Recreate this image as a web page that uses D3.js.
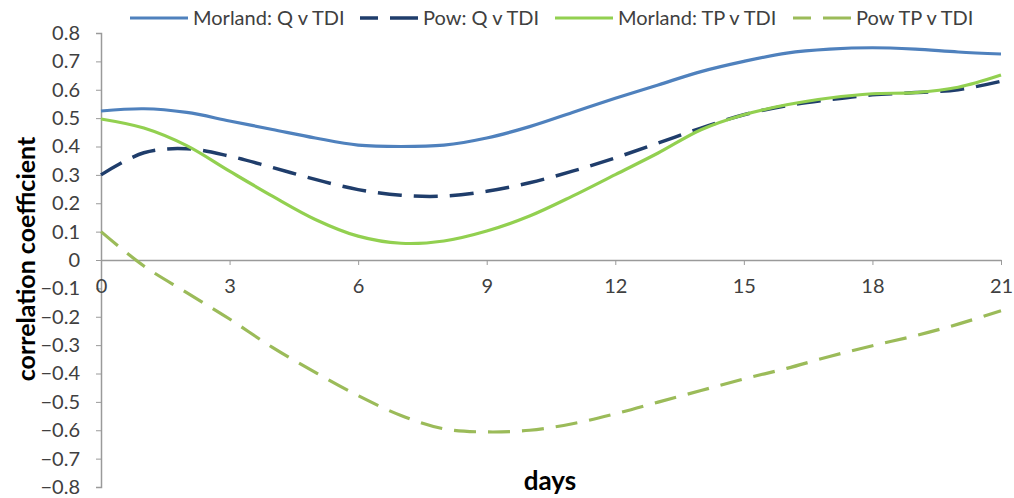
<!DOCTYPE html>
<html lang="en">
<head>
    <meta charset="UTF-8">
    <title>Correlation coefficient vs days</title>
    <script src="https://d3js.org/d3.v7.min.js"></script>
    <style>
        body { margin: 0; background: #fff; }
        text { font-family: Lato, "Open Sans", sans-serif; fill: #404040; }
        .tick-label { font-size: 20px; }
        .legend-label { font-size: 20px; }
        .axis-title { font-weight: bold; fill: #000; }
    </style>
</head>
<body>
<script>
    // days 0..21
    const days = d3.range(0, 22);
    const morlandQ = [0.525, 0.533, 0.52, 0.49, 0.46, 0.43, 0.405, 0.40, 0.405, 0.43, 0.47, 0.52, 0.57, 0.617, 0.664, 0.70, 0.729, 0.743, 0.748, 0.743, 0.733, 0.726];
    const powQ = [0.30, 0.378, 0.392, 0.366, 0.326, 0.284, 0.248, 0.228, 0.225, 0.242, 0.272, 0.313, 0.36, 0.412, 0.465, 0.512, 0.544, 0.565, 0.582, 0.59, 0.60, 0.63];
    const morlandTP = [0.497, 0.465, 0.403, 0.313, 0.225, 0.143, 0.084, 0.059, 0.067, 0.102, 0.155, 0.225, 0.301, 0.377, 0.459, 0.512, 0.547, 0.571, 0.586, 0.59, 0.609, 0.652];
    const powTP = [0.10, -0.021, -0.115, -0.208, -0.308, -0.396, -0.478, -0.548, -0.595, -0.606, -0.60, -0.577, -0.542, -0.501, -0.46, -0.419, -0.382, -0.34, -0.302, -0.267, -0.226, -0.179];

    const seriesNames = ["Morland: Q v TDI", "Pow: Q v TDI", "Morland: TP v TDI", "Pow TP v TDI"];
    const seriesValues = [morlandQ, powQ, morlandTP, powTP];
    const seriesColors = ["#4f81bd", "#1f3d6b", "#92d050", "#9bbb59"];
    const seriesDash = [null, "24,12", null, "22,12"];
    const seriesWidth = [3.2, 3.5, 3.2, 3.2];

    const xTicks = d3.range(0, 22, 3);
    const yTicks = d3.range(-8, 9).map(d => d / 10);

    const width = 1014, height = 498;
    const svg = d3.select("body").append("svg")
        .attr("width", width)
        .attr("height", height);

    const x = d3.scaleLinear().domain([0, 21]).range([101, 1001]);
    const y = d3.scaleLinear().domain([-0.8, 0.8]).range([487, 33]);

    const axisColor = "#9a9a9a";

    // y axis
    const yAxis = svg.append("g")
        .attr("transform", `translate(${x(0)},0)`)
        .call(d3.axisLeft(y).tickValues(yTicks).tickSize(5).tickPadding(16)
            .tickFormat(d => d === 0 ? "0" : d3.format(".1f")(d)));
    yAxis.select(".domain").attr("stroke", axisColor).attr("stroke-width", 1.5);
    yAxis.selectAll(".tick line").attr("stroke", axisColor);
    yAxis.selectAll(".tick text").attr("class", "tick-label").attr("fill", "#404040");

    // x axis across zero
    const xAxis = svg.append("g")
        .attr("transform", `translate(0,${y(0)})`)
        .call(d3.axisBottom(x).tickValues(xTicks).tickSize(5).tickPadding(14).tickSizeOuter(0));
    xAxis.select(".domain").attr("stroke", axisColor).attr("stroke-width", 1.5);
    xAxis.selectAll(".tick line").attr("stroke", axisColor);
    xAxis.selectAll(".tick text").attr("class", "tick-label").attr("fill", "#404040");

    // lines
    const line = d3.line()
        .x((d, i) => x(days[i]))
        .y(d => y(d))
        .curve(d3.curveCatmullRom.alpha(0.5));

    svg.append("g")
        .selectAll("path")
        .data(seriesValues)
        .join("path")
        .attr("fill", "none")
        .attr("stroke", (d, i) => seriesColors[i])
        .attr("stroke-width", (d, i) => seriesWidth[i])
        .attr("stroke-dasharray", (d, i) => seriesDash[i])
        .attr("d", line);

    // axis titles
    svg.append("text")
        .attr("class", "axis-title")
        .attr("transform", `translate(35,259) rotate(-90)`)
        .attr("text-anchor", "middle")
        .style("font-size", "25px")
        .text("correlation coefficient");

    svg.append("text")
        .attr("class", "axis-title")
        .attr("x", 550)
        .attr("y", 490)
        .attr("text-anchor", "middle")
        .style("font-size", "26px")
        .text("days");

    // legend
    const legendX = [130, 360, 555, 793];
    const legend = svg.append("g")
        .selectAll("g")
        .data(seriesNames)
        .join("g")
        .attr("transform", (d, i) => `translate(${legendX[i]},18)`);

    legend.append("line")
        .attr("x1", 0).attr("x2", 58)
        .attr("stroke", (d, i) => seriesColors[i])
        .attr("stroke-width", (d, i) => seriesWidth[i])
        .attr("stroke-dasharray", (d, i) => seriesDash[i] ? "18,12,28" : null);

    legend.append("text")
        .attr("class", "legend-label")
        .attr("x", 63)
        .attr("y", 7)
        .text(d => d);
</script>
</body>
</html>
